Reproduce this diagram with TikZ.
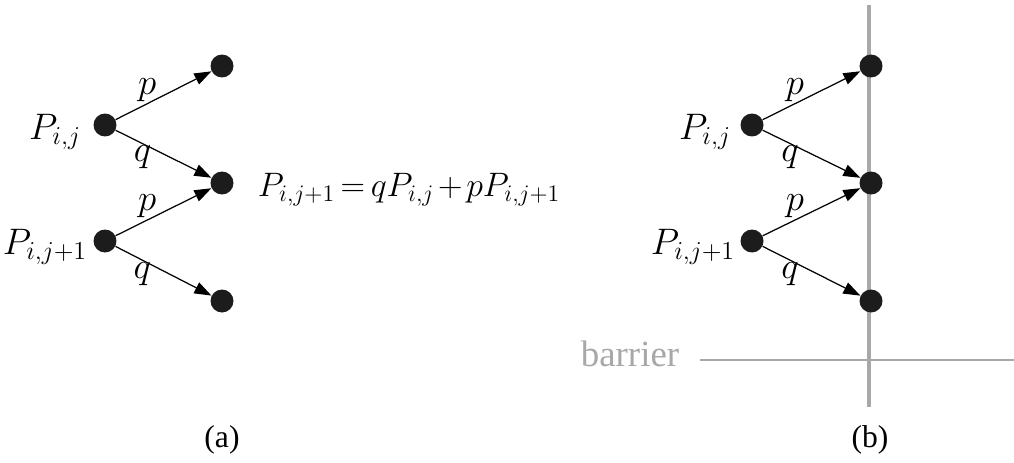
\documentclass[tikz,border=0pt]{standalone}
\usepackage{fix-cm}
\usepackage{fontspec}
\setmainfont{Liberation Serif}
\usetikzlibrary{arrows.meta}
\definecolor{bargray}{RGB}{168,168,168}
\definecolor{dotblk}{RGB}{28,28,28}
\tikzset{
  st/.style={circle, fill=dotblk, inner sep=0pt, minimum size=0.46cm},
  mv/.style={-{Triangle[length=3.4mm,width=2.4mm]}, black, line width=0.7pt},
  plab/.style={font=\fontsize{21}{25}\selectfont},
  wlab/.style={font=\fontsize{21}{25}\selectfont, inner sep=1pt},
  subcap/.style={font=\fontsize{18}{22}\selectfont},
  barline/.style={bargray, line width=2pt},
  hline/.style={bargray, line width=1.4pt},
}

\begin{document}
\begin{tikzpicture}[x=0.02cm, y=-0.02cm]
  \useasboundingbox (0,0) rectangle (1014,463);
  % (a) one step of the walk
  \node[st] (a1) at (105,125) {};
  \node[st] (a2) at (105,241) {};
  \node[st] (b1) at (222,66) {};
  \node[st] (b2) at (222,183) {};
  \node[st] (b3) at (222,301) {};
  \node[plab] (la1) at (55,132) {$P_{i,j}$};
  \node[plab] (la2) at (45,247) {$P_{i,j+1}$};
  \draw[mv] (a1) -- node[wlab, pos=0.33, above] {$p$} (b1);
  \draw[mv] (a1) -- node[wlab, pos=0.28, below] {$q$} (b2);
  \draw[mv] (a2) -- node[wlab, pos=0.33, above] {$p$} (b2);
  \draw[mv] (a2) -- node[wlab, pos=0.28, below] {$q$} (b3);
  \node[font=\fontsize{19.3}{23}\selectfont] (eq) at (409,190)
    {$\thickmuskip=3mu \medmuskip=2mu P_{i,j+1}=qP_{i,j}+pP_{i,j+1}$};
  \node[subcap] (ca) at (222,440) {(a)};
  % (b) the barrier
  \coordinate (vtop) at (869,5);
  \coordinate (vbot) at (869,407);
  \coordinate (hl) at (700,360);
  \coordinate (hr) at (1014,360);
  \draw[barline] (vtop) -- (vbot);
  \draw[hline] (hl) -- (hr);
  \node[font=\fontsize{21}{25}\selectfont, text=bargray] (bar) at (630,354) {barrier};
  \node[st] (c1) at (752,125) {};
  \node[st] (c2) at (752,241) {};
  \node[st] (d1) at (871,66) {};
  \node[st] (d2) at (871,183) {};
  \node[st] (d3) at (871,301) {};
  \node[plab] (lc1) at (705,132) {$P_{i,j}$};
  \node[plab] (lc2) at (693,247) {$P_{i,j+1}$};
  \draw[mv] (c1) -- node[wlab, pos=0.33, above] {$p$} (d1);
  \draw[mv] (c1) -- node[wlab, pos=0.28, below] {$q$} (d2);
  \draw[mv] (c2) -- node[wlab, pos=0.33, above] {$p$} (d2);
  \draw[mv] (c2) -- node[wlab, pos=0.28, below] {$q$} (d3);
  \node[subcap] (cb) at (870,440) {(b)};
\end{tikzpicture}
\end{document}
